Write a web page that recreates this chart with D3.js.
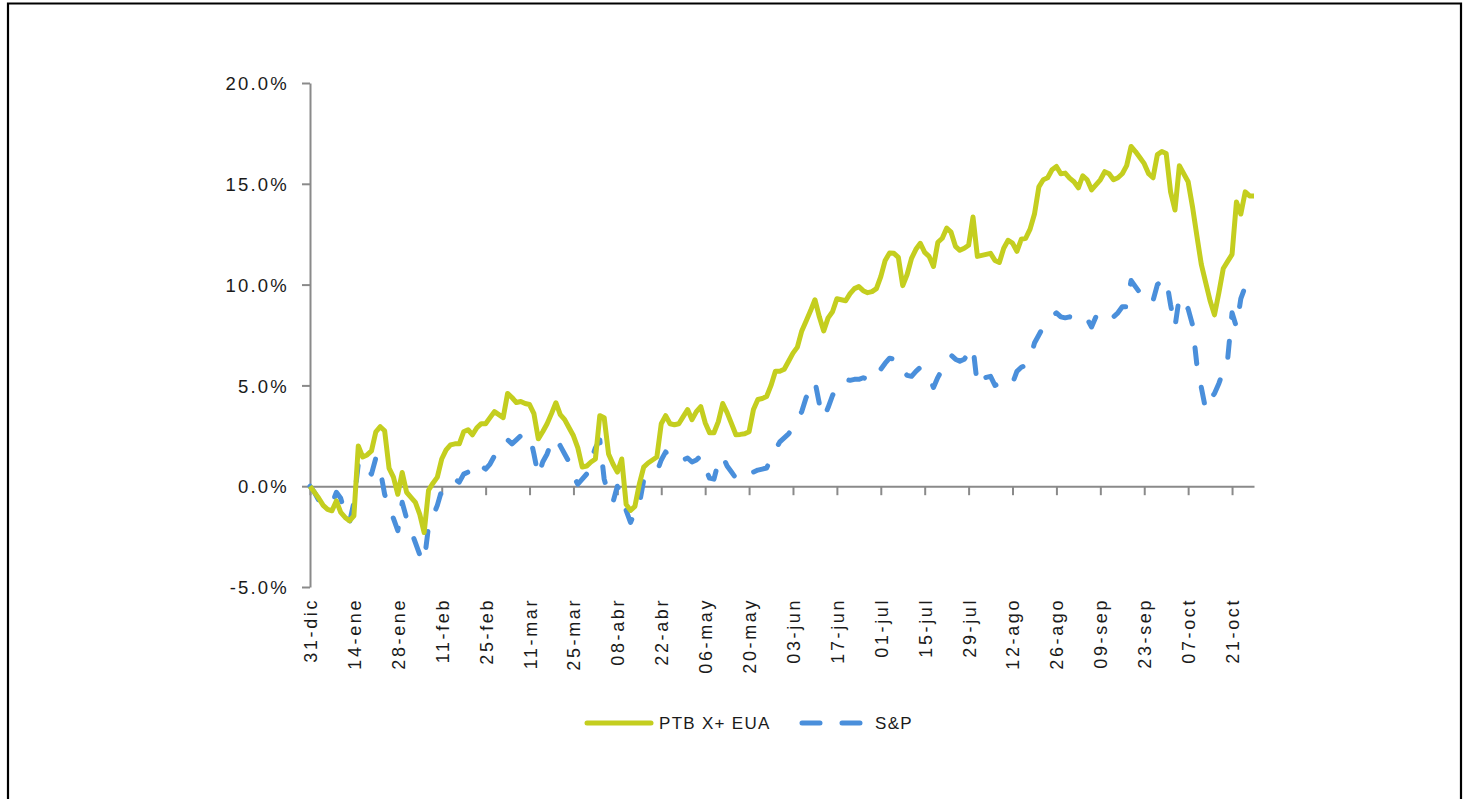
<!DOCTYPE html>
<html>
<head>
<meta charset="utf-8">
<script src="https://cdn.jsdelivr.net/npm/d3@7"></script>
<style>
  html, body { margin: 0; padding: 0; background: #fff; }
  svg { display: block; }
  text { font-family: "Liberation Sans", Arial, sans-serif; fill: #1a1a1a; }
</style>
</head>
<body>
<svg id="chart" width="1469" height="799"></svg>
<script>
// ---- data ----
const startDate = "2013-12-31";           // first category (weekdays follow)
const nPoints = 216;
const monthNames = ["ene","feb","mar","abr","may","jun","jul","ago","sep","oct","nov","dic"];
const tickLabels = ["31-dic","14-ene","28-ene","11-feb","25-feb","11-mar","25-mar","08-abr","22-abr","06-may","20-may",
  "03-jun","17-jun","01-jul","15-jul","29-jul","12-ago","26-ago","09-sep","23-sep","07-oct","21-oct"];
const yTicks = [-5, 0, 5, 10, 15, 20];
const seriesNames = ["PTB X+ EUA", "S&P"];

const ptb = [
  0.0,-0.3,-0.6,-0.95,-1.15,-1.22,-0.73,-1.3,-1.55,-1.72,
  -1.47,2.0,1.45,1.55,1.75,2.7,2.95,2.75,0.9,0.45,
  -0.4,0.68,-0.3,-0.55,-0.8,-1.4,-2.3,-0.2,0.15,0.45,
  1.35,1.8,2.05,2.1,2.1,2.7,2.8,2.55,2.9,3.1,
  3.1,3.4,3.7,3.55,3.4,4.6,4.4,4.15,4.2,4.1,
  4.05,3.6,2.35,2.7,3.1,3.6,4.14,3.55,3.3,2.9,
  2.5,1.9,0.95,1.0,1.2,1.35,3.5,3.4,1.6,1.1,
  0.7,1.35,-0.9,-1.2,-1.0,0.1,0.95,1.15,1.3,1.45,
  3.1,3.5,3.1,3.05,3.1,3.45,3.8,3.3,3.7,3.95,
  3.15,2.65,2.65,3.2,4.1,3.65,3.1,2.55,2.57,2.6,
  2.7,3.8,4.3,4.35,4.45,5.0,5.7,5.7,5.8,6.2,
  6.6,6.9,7.7,8.2,8.7,9.25,8.4,7.7,8.35,8.65,
  9.3,9.25,9.2,9.55,9.8,9.9,9.7,9.6,9.65,9.8,
  10.4,11.2,11.57,11.55,11.35,9.95,10.5,11.3,11.75,12.05,
  11.6,11.4,10.9,12.1,12.3,12.8,12.6,11.9,11.7,11.8,
  11.95,13.35,11.4,11.45,11.5,11.55,11.2,11.1,11.8,12.2,
  12.06,11.65,12.25,12.3,12.75,13.5,14.85,15.2,15.3,15.7,
  15.86,15.5,15.53,15.28,15.1,14.8,15.4,15.2,14.7,14.95,
  15.2,15.6,15.5,15.2,15.3,15.5,15.9,16.85,16.6,16.3,
  16.0,15.5,15.3,16.45,16.6,16.5,14.6,13.7,15.9,15.5,
  15.1,13.85,12.4,11.0,10.1,9.2,8.5,9.6,10.8,11.15,
  11.5,14.1,13.5,14.6,14.4,14.4
];

const sp = [
  0.0,-0.3,-0.7,-0.85,-1.0,-0.9,-0.3,-0.6,-1.4,-1.8,
  -0.8,1.1,1.3,0.8,0.6,1.4,0.8,-0.4,-1.1,-1.6,
  -2.2,-0.8,-1.6,-2.2,-2.8,-3.4,-3.75,-2.0,-1.5,-0.95,
  -0.2,0.0,0.2,0.35,0.2,0.6,0.7,0.5,0.9,1.0,
  0.85,1.1,1.5,1.75,2.2,2.3,2.1,2.3,2.5,2.55,
  2.57,1.6,0.5,1.2,1.6,2.2,2.4,2.0,1.6,1.2,
  0.5,0.1,0.35,0.6,1.3,1.9,2.3,0.35,-0.4,-0.8,
  0.0,-0.5,-1.2,-1.8,-1.3,-0.9,0.3,0.5,0.6,0.7,
  1.3,1.7,1.4,1.2,1.25,1.3,1.4,1.2,1.3,1.5,
  0.9,0.4,0.35,1.2,1.5,1.0,0.7,0.4,0.35,0.3,
  0.55,0.7,0.8,0.85,0.9,1.4,1.8,2.2,2.4,2.6,
  2.9,3.3,3.7,4.4,4.8,5.2,4.1,3.4,3.9,4.5,
  4.9,5.2,5.3,5.25,5.3,5.3,5.38,5.3,5.2,5.4,
  5.8,6.1,6.35,6.3,6.25,5.7,5.5,5.45,5.7,5.9,
  5.6,5.4,4.9,5.4,5.8,6.1,6.5,6.3,6.2,6.3,
  6.6,6.9,5.0,5.3,5.4,5.45,5.0,5.1,5.3,5.2,
  5.1,5.7,5.9,6.0,6.3,7.1,7.5,7.9,8.1,8.4,
  8.6,8.4,8.35,8.4,8.3,8.2,8.4,8.3,7.9,8.4,
  8.4,8.7,8.6,8.4,8.6,8.9,8.9,10.2,9.9,9.6,
  9.75,9.4,9.2,10.0,10.2,10.3,9.0,7.9,9.4,9.1,
  8.8,8.0,6.0,4.9,3.8,4.3,4.6,5.1,5.7,6.3,
  8.6,7.9,9.3,9.9,9.9,9.9
];

// ---- categories (weekdays from the start date) ----
const categories = [];
{
  const d = new Date(startDate + "T12:00:00");
  while (categories.length < nPoints) {
    const wd = d.getDay();
    if (wd !== 0 && wd !== 6) {
      categories.push(String(d.getDate()).padStart(2, "0") + "-" + monthNames[d.getMonth()]);
    }
    d.setDate(d.getDate() + 1);
  }
}

// ---- layout ----
const svg = d3.select("#chart");
const C = { green: "#c4ce1f", blue: "#4a8fdb", axis: "#8a8a8a" };

svg.append("rect").attr("width", 1469).attr("height", 799).attr("fill", "#fff");
// outer frame
svg.append("path")
  .attr("d", "M8,800 L8,3.5 L1461,3.5 L1461,800")
  .attr("fill", "none").attr("stroke", "#000").attr("stroke-width", 2.2);

const x = d3.scalePoint().domain(categories).range([310, 1254]);
const y = d3.scaleLinear().domain([-5, 20]).range([587, 83]);

const tickCats = tickLabels.map(l => categories.indexOf(l) >= 0 ? l : null).filter(Boolean);

// y axis
const yAxis = svg.append("g").attr("transform", "translate(310,0)")
  .call(d3.axisLeft(y).tickValues(yTicks).tickSize(8).tickSizeOuter(0)
    .tickFormat(d => (d < 0 ? "-" : "") + Math.abs(d).toFixed(1) + "%"));
yAxis.select(".domain").attr("stroke", C.axis).attr("stroke-width", 2);
yAxis.selectAll(".tick line").attr("stroke", C.axis).attr("stroke-width", 2);
yAxis.selectAll(".tick text")
  .attr("x", -21).attr("dy", "0.36em")
  .style("font-size", "18.5px").style("letter-spacing", "2.2px")
  .attr("fill", "#1a1a1a").attr("font-family", null);

// x axis (ticks on the zero line)
const xAxis = svg.append("g").attr("transform", `translate(0,${y(0)})`)
  .call(d3.axisBottom(x).tickValues(tickCats).tickSize(9).tickSizeOuter(0).tickFormat(""));
xAxis.select(".domain").attr("stroke", C.axis).attr("stroke-width", 2);
xAxis.selectAll(".tick line").attr("stroke", C.axis).attr("stroke-width", 2);

// x labels at bottom of plot
const xLab = svg.append("g").attr("transform", "translate(0,598)")
  .call(d3.axisBottom(x).tickValues(tickCats).tickSize(0).tickFormat(d => d));
xLab.select(".domain").remove();
xLab.selectAll(".tick text")
  .attr("transform", "rotate(-90)")
  .attr("text-anchor", "end")
  .attr("x", 0).attr("y", 0).attr("dx", 0).attr("dy", "0.36em")
  .style("font-size", "18px").style("letter-spacing", "2.6px")
  .attr("fill", "#1a1a1a").attr("font-family", null);

// lines
const line = d3.line().x((d, i) => x(categories[i])).y(d => y(d));
svg.append("path").datum(sp)
  .attr("d", line).attr("fill", "none").attr("stroke", C.blue)
  .attr("stroke-width", 5).attr("stroke-dasharray", "16,24")
  .attr("stroke-linecap", "round").attr("stroke-linejoin", "round");
svg.append("path").datum(ptb)
  .attr("d", line).attr("fill", "none").attr("stroke", C.green)
  .attr("stroke-width", 5).attr("stroke-linejoin", "round");

// legend
const lg = svg.append("g");
lg.append("line").attr("x1", 587).attr("x2", 651).attr("y1", 723).attr("y2", 723)
  .attr("stroke", C.green).attr("stroke-width", 5).attr("stroke-linecap", "round");
lg.append("text").attr("x", 659).attr("y", 723).attr("dy", "0.36em")
  .style("font-size", "17px").style("letter-spacing", "1.3px").text(seriesNames[0]);
lg.append("line").attr("x1", 802).attr("x2", 862).attr("y1", 723).attr("y2", 723)
  .attr("stroke", C.blue).attr("stroke-width", 5).attr("stroke-linecap", "round")
  .attr("stroke-dasharray", "18,22");
lg.append("text").attr("x", 875).attr("y", 723).attr("dy", "0.36em")
  .style("font-size", "17px").style("letter-spacing", "1.3px").text(seriesNames[1]);
</script>
</body>
</html>
